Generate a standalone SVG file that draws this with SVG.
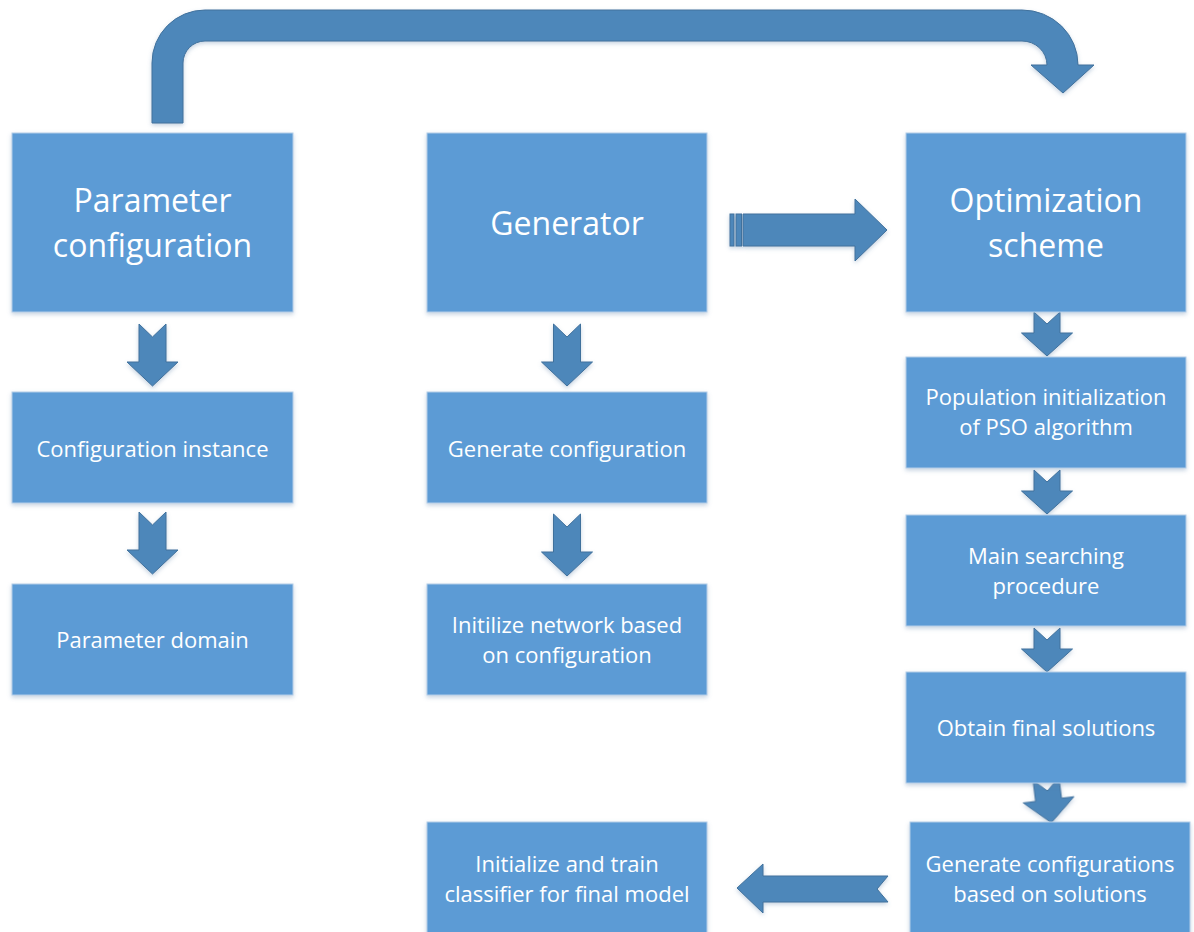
<svg xmlns="http://www.w3.org/2000/svg" width="1194" height="932" viewBox="0 0 1194 932">
<defs>
<filter id="sh" x="-10%" y="-10%" width="120%" height="130%">
<feDropShadow dx="0" dy="2" stdDeviation="2" flood-color="#5b7fa8" flood-opacity="0.35"/>
</filter>
<path id="downL" d="M-13.5,0 L0,13 L13.5,0 L13.5,38 L25.5,38 L0,62 L-25.5,38 L-13.5,38 Z"/>
<path id="downS" d="M-13,0 L0,12 L13,0 L13,21 L25.5,21 L0,44 L-25.5,21 L-13,21 Z"/>
</defs>
<style>
.box{fill:#5B9BD5;stroke:#B4CDE8;stroke-width:1;filter:url(#sh)}
.arr{fill:#4D87BA;stroke:#41719C;stroke-width:1;filter:url(#sh)}
.big{font-family:"Open Sans","Noto Sans",sans-serif;font-size:32px;fill:#fff;text-anchor:middle}
.sm{font-family:"Open Sans","Noto Sans",sans-serif;font-size:22px;fill:#fff;text-anchor:middle}
</style>
<rect width="1194" height="932" fill="#fff"/>
<g id="connectors">
<path class="arr" d="M152,123 L152,63 A53,53 0 0 1 205,10 L1022,10 A56,55 0 0 1 1078,65 L1094,65 L1063,93 L1031,65 L1047,65 A25,24 0 0 0 1022,41 L205,41 A22,22 0 0 0 183,63 L183,123 Z"/>
<g class="arr">
<rect x="730" y="214" width="4" height="32"/>
<rect x="736" y="214" width="5.5" height="32"/>
<path d="M743,214 L855,214 L855,199 L887,230 L855,261 L855,246 L743,246 Z"/>
</g>
<path class="arr" d="M737,888 L763,864 L763,876 L888,876 L877,889 L888,902 L763,902 L763,913 Z"/>
<use href="#downL" class="arr" x="152.5" y="324"/>
<use href="#downL" class="arr" x="152.5" y="512"/>
<use href="#downL" class="arr" x="567" y="324"/>
<use href="#downL" class="arr" x="567" y="514"/>
<use href="#downS" class="arr" x="1047" y="312"/>
<use href="#downS" class="arr" x="1047" y="470"/>
<use href="#downS" class="arr" x="1047" y="628"/>
<use href="#downS" class="arr" transform="translate(1046,779) rotate(-7)"/>
</g>
<g id="param-config"><rect class="box" x="12" y="133" width="281" height="179"/><text class="big" x="152.5" y="212">Parameter</text><text class="big" x="152.5" y="257">configuration</text></g>
<g id="config-instance"><rect class="box" x="12" y="392" width="281" height="111"/><text class="sm" x="152.5" y="457">Configuration instance</text></g>
<g id="param-domain"><rect class="box" x="12" y="584" width="281" height="111"/><text class="sm" x="152.5" y="648">Parameter domain</text></g>
<g id="generator"><rect class="box" x="427" y="133" width="280" height="179"/><text class="big" x="567" y="235">Generator</text></g>
<g id="gen-config"><rect class="box" x="427" y="392" width="280" height="111"/><text class="sm" x="567" y="457">Generate configuration</text></g>
<g id="init-network"><rect class="box" x="427" y="584" width="280" height="111"/><text class="sm" x="567" y="633">Initilize network based</text><text class="sm" x="567" y="663">on configuration</text></g>
<g id="opt-scheme"><rect class="box" x="906" y="133" width="280" height="179"/><text class="big" x="1046" y="212">Optimization</text><text class="big" x="1046" y="257">scheme</text></g>
<g id="pop-init"><rect class="box" x="906" y="357" width="280" height="111"/><text class="sm" x="1046" y="405">Population initialization</text><text class="sm" x="1046" y="435">of PSO algorithm</text></g>
<g id="main-search"><rect class="box" x="906" y="515" width="280" height="111"/><text class="sm" x="1046" y="564">Main searching</text><text class="sm" x="1046" y="594">procedure</text></g>
<g id="obtain-final"><rect class="box" x="906" y="672" width="280" height="111"/><text class="sm" x="1046" y="736">Obtain final solutions</text></g>
<g id="gen-configs"><rect class="box" x="910" y="822" width="280" height="115"/><text class="sm" x="1050" y="872">Generate configurations</text><text class="sm" x="1050" y="902">based on solutions</text></g>
<g id="init-train"><rect class="box" x="427" y="822" width="280" height="115"/><text class="sm" x="567" y="872">Initialize and train</text><text class="sm" x="567" y="902">classifier for final model</text></g>
</svg>
